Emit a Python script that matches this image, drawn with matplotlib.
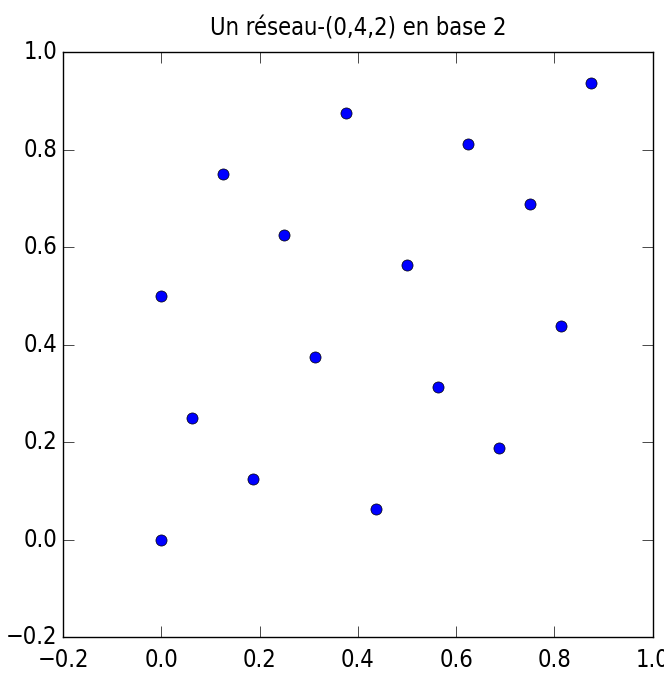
import matplotlib
matplotlib.use('Agg')
import matplotlib.pyplot as plt

# points of the (0,4,2)-net in base 2
x = [0.0, 0.0, 0.0625, 0.125, 0.1875, 0.25, 0.3125, 0.375,
     0.4375, 0.5, 0.5625, 0.625, 0.6875, 0.75, 0.8125, 0.875]
y = [0.0, 0.5, 0.25, 0.75, 0.125, 0.625, 0.375, 0.875,
     0.0625, 0.5625, 0.3125, 0.8125, 0.1875, 0.6875, 0.4375, 0.9375]

plt.style.use('classic')
plt.rcParams['font.family'] = ['DejaVu Sans']
plt.rcParams['font.stretch'] = 'condensed'

fig = plt.figure(figsize=(6.64, 6.73), dpi=100, facecolor='white')
ax = fig.add_axes([0.095, 0.0535, 0.888, 0.869])
ax.plot(x, y, 'o', color='blue', markeredgecolor='black', markersize=8)
ax.set_xlim(-0.2, 1.0)
ax.set_ylim(-0.2, 1.0)
ax.tick_params(labelsize=17, length=8)
ax.tick_params(axis='x', pad=8)
ax.set_title('Un réseau-(0,4,2) en base 2', fontsize=17, pad=12)

fig.savefig('out.png', dpi=100, facecolor='white')
